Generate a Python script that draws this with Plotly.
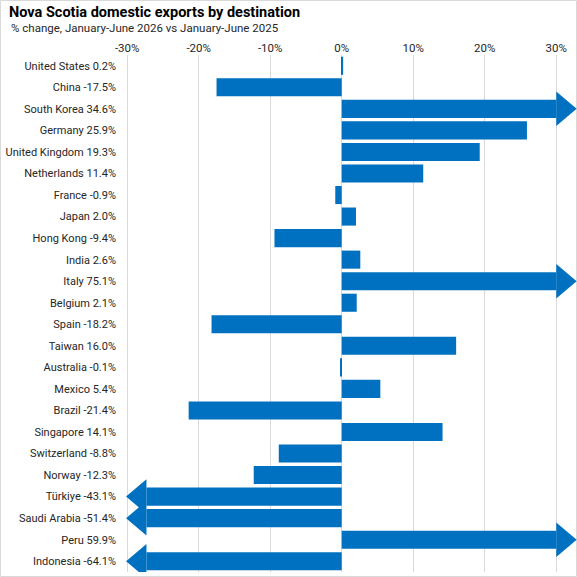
import plotly.graph_objects as go

# data
countries = ["United States", "China", "South Korea", "Germany", "United Kingdom",
             "Netherlands", "France", "Japan", "Hong Kong", "India", "Italy", "Belgium",
             "Spain", "Taiwan", "Australia", "Mexico", "Brazil", "Singapore",
             "Switzerland", "Norway", "Türkiye", "Saudi Arabia", "Peru", "Indonesia"]
pct_change = [0.2, -17.5, 34.6, 25.9, 19.3, 11.4, -0.9, 2.0, -9.4, 2.6, 75.1, 2.1,
              -18.2, 16.0, -0.1, 5.4, -21.4, 14.1, -8.8, -12.3, -43.1, -51.4, 59.9, -64.1]
tick_vals = [-30, -20, -10, 0, 10, 20, 30]
tick_text = ["-30%", "-20%", "-10%", "0%", "10%", "20%", "30%"]

BLUE = "#0070C0"
FONT = "Roboto, sans-serif"
cap_pos, cap_neg = 30, -27.3   # where the bar body stops before the arrow head
head_len = 2.85
head_half = 0.8

idx = list(range(len(countries)))
labels = [f"{c} {v:.1f}%" for c, v in zip(countries, pct_change)]
clipped = [min(max(v, cap_neg), cap_pos) for v in pct_change]

# arrow heads for values running off the axis
hx, hy = [], []
for i, v in enumerate(pct_change):
    if v > cap_pos:
        hx += [cap_pos, cap_pos + head_len, cap_pos, cap_pos, None]
        hy += [i - head_half, i, i + head_half, i - head_half, None]
    elif v < cap_neg:
        hx += [cap_neg, cap_neg - head_len, cap_neg, cap_neg, None]
        hy += [i - head_half, i, i + head_half, i - head_half, None]

fig = go.Figure()
fig.add_trace(go.Bar(x=clipped, y=idx, orientation="h", width=0.84,
                     marker=dict(color=BLUE, line=dict(width=0))))
fig.add_trace(go.Scatter(x=hx, y=hy, mode="lines", fill="toself", fillcolor=BLUE,
                         line=dict(width=0, color=BLUE), hoverinfo="skip"))

W, H = 577, 577
ml, mr, mt, mb = 125, 0, 55, 5
pw, ph = W - ml - mr, H - mt - mb

def px_x(p):
    return (p - ml) / pw

def px_y(p):
    return (H - mb - p) / ph

fig.update_layout(
    width=W, height=H,
    margin=dict(l=ml, r=mr, t=mt, b=mb, autoexpand=False),
    plot_bgcolor="white", paper_bgcolor="white",
    showlegend=False,
    font=dict(family=FONT, size=12, color="#262626"),
    xaxis=dict(range=[-30.3, 32.9], side="top", tickvals=tick_vals, ticktext=tick_text,
               showgrid=True, gridcolor="#d9d9d9", gridwidth=1,
               zeroline=True, zerolinecolor="#d9d9d9", zerolinewidth=1,
               showline=False, ticks="", automargin=False,
               tickfont=dict(size=11.5, color="#262626")),
    yaxis=dict(range=[len(countries) - 0.5, -0.5], tickvals=idx, ticktext=labels,
               showgrid=False, zeroline=False, showline=False, ticks="",
               automargin=False, ticklabelstandoff=8,
               tickfont=dict(size=11, color="#262626")),
    annotations=[
        dict(text="<b>Nova Scotia domestic exports by destination</b>",
             xref="paper", yref="paper", x=px_x(7), y=px_y(13),
             xanchor="left", yanchor="middle", showarrow=False,
             font=dict(size=14.5, color="black", family=FONT)),
        dict(text="% change, January-June 2026 vs January-June 2025",
             xref="paper", yref="paper", x=px_x(9), y=px_y(28),
             xanchor="left", yanchor="middle", showarrow=False,
             font=dict(size=11.5, color="#262626", family=FONT)),
    ],
    shapes=[dict(type="rect", xref="paper", yref="paper",
                 x0=px_x(0.5), x1=px_x(W - 0.5), y0=px_y(H - 0.5), y1=px_y(0.5),
                 line=dict(color="#d9d9d9", width=1), layer="below")],
)

# drop the browser's default body margin so the chart sits at the page corner
fig.write_html("out.html", config={"displayModeBar": False},
               post_script="document.body.style.margin='0';")
